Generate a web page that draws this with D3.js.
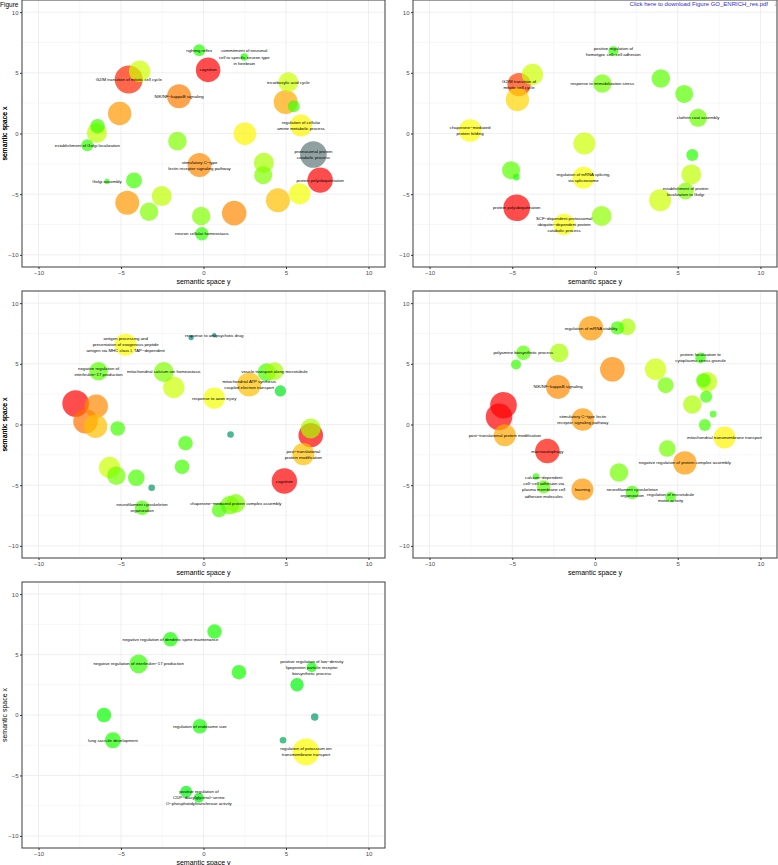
<!DOCTYPE html>
<html>
<head>
    <meta charset="utf-8">
    <title>GO semantic space</title>
    <script src="https://cdnjs.cloudflare.com/ajax/libs/d3/7.8.5/d3.min.js"></script>
    <style>
        body { margin: 0; background: #fff; }
        text { font-family: "Liberation Sans", Arial, sans-serif; }
        .tick text { fill: #4d4d4d; font-size: 6px; }
        .tick line { stroke: #333; }
        .label { font-size: 4.3px; fill: #000; }
    </style>
</head>
<body>
<script type="text/javascript">
    // y = horizontal ("semantic space y"), x = vertical ("semantic space x")
    // size ~ squared radius, score: 0 blue .. 1/3 green .. 2/3 yellow .. 1 red (null = NA)
    var panel1 = [
        { term: "righting reflex", y: -0.26, x: 6.86, size: 36, score: 0.38 },
        { term: "commitment of neuronal\ncell to specific neuron type\nin forebrain", y: 2.47, x: 6.3, size: 14, score: 0.38 },
        { term: "cognition", y: 0.28, x: 5.24, size: 151, score: 1.0 },
        { term: "", y: -3.87, x: 5.13, size: 114, score: 0.6 },
        { term: "G2/M transition of mitotic cell cycle", y: -4.53, x: 4.45, size: 196, score: 0.95 },
        { term: "NIK/NF\u2212kappaB signaling", y: -1.48, x: 3.07, size: 144, score: 0.84 },
        { term: "tricarboxylic acid cycle", y: 5.14, x: 4.22, size: 100, score: 0.6 },
        { term: "", y: 4.98, x: 2.6, size: 144, score: 0.78 },
        { term: "", y: 5.47, x: 2.25, size: 36, score: 0.42 },
        { term: "regulation of cellular\namine metabolic process", y: 5.91, x: 0.66, size: 121, score: 0.68 },
        { term: "", y: 2.51, x: -0.03, size: 128, score: 0.68 },
        { term: "", y: -5.08, x: 1.65, size: 137, score: 0.8 },
        { term: "", y: -6.42, x: 0.6, size: 53, score: 0.42 },
        { term: "", y: -6.46, x: 0.05, size: 100, score: 0.58 },
        { term: "establishment of Golgi localization", y: -7.04, x: -0.96, size: 36, score: 0.4 },
        { term: "", y: -1.58, x: -0.63, size: 86, score: 0.5 },
        { term: "stimulatory C\u2212type\nlectin receptor signaling pathway", y: -0.24, x: -2.6, size: 144, score: 0.82 },
        { term: "proteasomal protein\ncatabolic process", y: 6.66, x: -1.73, size: 177, score: null },
        { term: "protein polyubiquitination", y: 7.07, x: -3.84, size: 161, score: 1.0 },
        { term: "", y: 3.66, x: -2.41, size: 100, score: 0.55 },
        { term: "", y: 3.62, x: -3.43, size: 81, score: 0.5 },
        { term: "Golgi assembly", y: -5.85, x: -3.95, size: 7, score: 0.38 },
        { term: "", y: -4.21, x: -3.87, size: 64, score: 0.42 },
        { term: "", y: -2.53, x: -5.16, size: 100, score: 0.58 },
        { term: "", y: -4.62, x: -5.7, size: 144, score: 0.8 },
        { term: "", y: -3.3, x: -6.45, size: 86, score: 0.5 },
        { term: "", y: -0.14, x: -6.8, size: 86, score: 0.5 },
        { term: "neuron cellular homeostasis", y: -0.1, x: -8.26, size: 45, score: 0.4 },
        { term: "", y: 1.86, x: -6.56, size: 151, score: 0.82 },
        { term: "", y: 4.51, x: -5.51, size: 144, score: 0.75 },
        { term: "", y: 5.83, x: -4.97, size: 114, score: 0.65 }
    ];

    var panel2 = [
        { term: "positive regulation of\nhomotypic cell\u2212cell adhesion", y: 1.11, x: 6.78, size: 25, score: 0.4 },
        { term: "", y: -3.78, x: 4.86, size: 114, score: 0.6 },
        { term: "G2/M transition of\nmitotic cell cycle", y: -4.59, x: 4.03, size: 137, score: 0.92 },
        { term: "", y: -4.69, x: 2.8, size: 137, score: 0.72 },
        { term: "response to immobilization stress", y: 0.44, x: 4.12, size: 86, score: 0.48 },
        { term: "", y: 3.98, x: 4.53, size: 86, score: 0.45 },
        { term: "", y: 5.39, x: 3.26, size: 81, score: 0.45 },
        { term: "clathrin coat assembly", y: 6.23, x: 1.29, size: 81, score: 0.47 },
        { term: "chaperone\u2212mediated\nprotein folding", y: -7.55, x: 0.25, size: 128, score: 0.67 },
        { term: "", y: -0.64, x: -0.82, size: 121, score: 0.6 },
        { term: "", y: 5.88, x: -1.78, size: 36, score: 0.38 },
        { term: "", y: 5.82, x: -3.37, size: 100, score: 0.58 },
        { term: "", y: -5.07, x: -3.02, size: 81, score: 0.45 },
        { term: "", y: -4.75, x: -3.6, size: 11, score: 0.38 },
        { term: "regulation of mRNA splicing,\nvia spliceosome", y: -0.7, x: -3.65, size: 121, score: 0.66 },
        { term: "establishment of protein\nlocalization to Golgi", y: 5.47, x: -4.75, size: 69, score: 0.5 },
        { term: "", y: 3.94, x: -5.49, size: 121, score: 0.6 },
        { term: "protein polyubiquitination", y: -4.73, x: -6.12, size: 177, score: 1.0 },
        { term: "", y: 0.4, x: -6.8, size: 100, score: 0.52 },
        { term: "SCF\u2212dependent proteasomal\nubiquitin\u2212dependent protein\ncatabolic process", y: -1.87, x: -7.49, size: 114, score: 0.66 }
    ];

    var panel3 = [
        { term: "", y: -0.75, x: 7.16, size: 7, score: 0.18 },
        { term: "response to antipsychotic drug", y: 0.65, x: 7.35, size: 5, score: 0.18 },
        { term: "antigen processing and\npresentation of exogenous peptide\nantigen via MHC class I, TAP\u2212dependent", y: -4.72, x: 6.58, size: 121, score: 0.67 },
        { term: "negative regulation of\ninterleukin\u221217 production", y: -6.36, x: 4.39, size: 86, score: 0.45 },
        { term: "mitochondrial calcium ion homeostasis", y: -2.41, x: 4.33, size: 100, score: 0.5 },
        { term: "", y: -1.8, x: 3.05, size: 114, score: 0.6 },
        { term: "response to axon injury", y: 0.65, x: 2.17, size: 114, score: 0.65 },
        { term: "", y: 3.83, x: 4.3, size: 81, score: 0.43 },
        { term: "vesicle transport along microtubule", y: 4.3, x: 4.39, size: 81, score: 0.55 },
        { term: "mitochondrial ATP synthesis\ncoupled electron transport", y: 2.77, x: 3.29, size: 144, score: 0.75 },
        { term: "", y: 4.66, x: 2.77, size: 32, score: 0.3 },
        { term: "", y: -7.75, x: 1.73, size: 177, score: 1.0 },
        { term: "", y: -6.5, x: 1.51, size: 137, score: 0.82 },
        { term: "", y: -7.15, x: 0.27, size: 151, score: 0.85 },
        { term: "", y: -6.54, x: -0.14, size: 137, score: 0.75 },
        { term: "", y: -5.2, x: -0.33, size: 53, score: 0.42 },
        { term: "", y: -1.09, x: -1.54, size: 53, score: 0.42 },
        { term: "", y: 1.64, x: -0.82, size: 11, score: 0.2 },
        { term: "", y: -1.3, x: -3.48, size: 53, score: 0.42 },
        { term: "", y: 6.5, x: -0.88, size: 151, score: 1.0 },
        { term: "", y: 6.5, x: -0.33, size: 100, score: 0.55 },
        { term: "post\u2212translational\nprotein modification", y: 6.05, x: -2.44, size: 121, score: 0.75 },
        { term: "cognition", y: 4.9, x: -4.66, size: 161, score: 1.0 },
        { term: "", y: -5.69, x: -3.54, size: 114, score: 0.6 },
        { term: "", y: -5.28, x: -4.22, size: 86, score: 0.48 },
        { term: "", y: -4.07, x: -4.39, size: 69, score: 0.43 },
        { term: "", y: -3.14, x: -5.21, size: 11, score: 0.2 },
        { term: "neurofilament cytoskeleton\norganization", y: -3.72, x: -6.86, size: 53, score: 0.43 },
        { term: "", y: 0.95, x: -7.05, size: 53, score: 0.43 },
        { term: "", y: 1.6, x: -6.64, size: 86, score: 0.48 },
        { term: "chaperone\u2212mediated protein complex assembly", y: 1.96, x: -6.5, size: 86, score: 0.5 }
    ];

    var panel4 = [
        { term: "regulation of mRNA stability", y: -0.24, x: 7.93, size: 151, score: 0.8 },
        { term: "", y: 1.35, x: 7.96, size: 45, score: 0.42 },
        { term: "", y: 1.95, x: 8.04, size: 69, score: 0.55 },
        { term: "polyamine biosynthetic process", y: -4.33, x: 5.9, size: 53, score: 0.45 },
        { term: "", y: -4.77, x: 4.94, size: 25, score: 0.4 },
        { term: "", y: -2.17, x: 5.9, size: 86, score: 0.55 },
        { term: "", y: 1.05, x: 4.55, size: 151, score: 0.82 },
        { term: "NIK/NF\u2212kappaB signaling", y: -2.23, x: 3.1, size: 144, score: 0.82 },
        { term: "", y: 3.66, x: 4.55, size: 114, score: 0.6 },
        { term: "", y: 4.27, x: 3.24, size: 64, score: 0.48 },
        { term: "protein localization to\ncytoplasmic stress granule", y: 6.38, x: 5.49, size: 28, score: 0.4 },
        { term: "", y: 6.78, x: 3.51, size: 100, score: 0.58 },
        { term: "", y: 6.55, x: 3.63, size: 53, score: 0.45 },
        { term: "", y: 6.72, x: 2.28, size: 36, score: 0.42 },
        { term: "", y: 5.88, x: 1.65, size: 86, score: 0.56 },
        { term: "", y: 7.14, x: 0.85, size: 11, score: 0.4 },
        { term: "", y: 6.64, x: -0.05, size: 36, score: 0.42 },
        { term: "mitochondrial transmembrane transport", y: 7.83, x: -1.07, size: 121, score: 0.68 },
        { term: "", y: -5.53, x: 1.59, size: 177, score: 1.0 },
        { term: "", y: -5.8, x: 0.63, size: 177, score: 1.0 },
        { term: "post\u2212translational protein modification", y: -5.45, x: -0.88, size: 121, score: 0.78 },
        { term: "stimulatory C\u2212type lectin\nreceptor signaling pathway", y: -0.74, x: 0.41, size: 128, score: 0.8 },
        { term: "macroautophagy", y: -2.88, x: -2.19, size: 151, score: 0.98 },
        { term: "", y: 4.37, x: -1.98, size: 69, score: 0.48 },
        { term: "negative regulation of protein complex assembly", y: 5.43, x: -3.16, size: 137, score: 0.8 },
        { term: "", y: 1.45, x: -3.95, size: 86, score: 0.48 },
        { term: "", y: -3.56, x: -4.28, size: 11, score: 0.4 },
        { term: "calcium\u2212dependent\ncell\u2212cell adhesion via\nplasma membrane cell\nadhesion molecules", y: -3.1, x: -5.14, size: 45, score: 0.45 },
        { term: "learning", y: -0.76, x: -5.35, size: 121, score: 0.8 },
        { term: "neurofilament cytoskeleton\norganization", y: 2.25, x: -5.6, size: 45, score: 0.42 },
        { term: "regulation of microtubule\nmotor activity", y: 4.57, x: -5.98, size: 28, score: 0.42 }
    ];

    var panel5 = [
        { term: "", y: 0.67, x: 6.9, size: 53, score: 0.36 },
        { term: "negative regulation of dendritic spine maintenance", y: -2.0, x: 6.26, size: 53, score: 0.36 },
        { term: "negative regulation of interleukin\u221217 production", y: -3.93, x: 4.23, size: 86, score: 0.4 },
        { term: "", y: 2.15, x: 3.54, size: 53, score: 0.36 },
        { term: "positive regulation of low\u2212density\nlipoprotein particle receptor\nbiosynthetic process", y: 6.56, x: 3.96, size: 25, score: 0.35 },
        { term: "", y: 5.67, x: 2.5, size: 45, score: 0.32 },
        { term: "", y: -6.03, x: 0.0, size: 53, score: 0.34 },
        { term: "", y: 6.74, x: -0.16, size: 14, score: 0.2 },
        { term: "regulation of endosome size", y: -0.22, x: -0.93, size: 53, score: 0.36 },
        { term: "lung saccule development", y: -5.49, x: -2.09, size: 64, score: 0.37 },
        { term: "", y: 4.82, x: -2.09, size: 11, score: 0.22 },
        { term: "regulation of potassium ion\ntransmembrane transport", y: 6.21, x: -3.05, size: 177, score: 0.67 },
        { term: "", y: -1.05, x: -6.35, size: 36, score: 0.32 },
        { term: "positive regulation of\nCDP\u2212diacylglycerol\u2212serine\nO\u2212phosphatidyltransferase activity", y: -0.28, x: -6.84, size: 25, score: 0.32 }
    ];

    var axisTicks = [-10, -5, 0, 5, 10];
    var gridTicks = [-10, -7.5, -5, -2.5, 0, 2.5, 5, 7.5, 10];

    var width = 778, height = 865;

    var panels = [
        { data: panel1, left: 22, top: 0, w: 363, h: 267 },
        { data: panel2, left: 413, top: 0, w: 364, h: 267 },
        { data: panel3, left: 22, top: 291, w: 363, h: 267 },
        { data: panel4, left: 413, top: 291, w: 364, h: 267 },
        { data: panel5, left: 22, top: 582, w: 363, h: 266 }
    ];

    var svg = d3.select("body").append("svg")
        .attr("width", width)
        .attr("height", height);

    svg.append("rect").attr("width", width).attr("height", height).attr("fill", "#fff");

    var color = d3.scaleLinear()
        .domain([0, 1 / 3, 2 / 3, 1])
        .range(["#0000ff", "#00ff00", "#ffff00", "#ff0000"]);

    var radius = d3.scaleSqrt().domain([0, 196]).range([0, 14]);

    panels.forEach(function (p) {
        var xScale = d3.scaleLinear().domain([-11, 11]).range([0, p.w]),
            yScale = d3.scaleLinear().domain([-11, 11]).range([p.h, 0]);

        var g = svg.append("g")
            .attr("transform", "translate(" + p.left + "," + p.top + ")");

        // grid, minor then major
        g.selectAll("line.vgrid").data(gridTicks).enter()
            .append("line")
            .attr("x1", xScale).attr("x2", xScale)
            .attr("y1", 0).attr("y2", p.h)
            .attr("stroke", "#ebebeb")
            .attr("stroke-width", function (d) { return d % 5 === 0 ? 0.8 : 0.4; });
        g.selectAll("line.hgrid").data(gridTicks).enter()
            .append("line")
            .attr("y1", yScale).attr("y2", yScale)
            .attr("x1", 0).attr("x2", p.w)
            .attr("stroke", "#ebebeb")
            .attr("stroke-width", function (d) { return d % 5 === 0 ? 0.8 : 0.4; });

        var sorted = p.data.slice().sort(function (a, b) { return b.size - a.size; });

        g.selectAll("circle").data(sorted).enter()
            .append("circle")
            .attr("cx", function (d) { return xScale(d.y); })
            .attr("cy", function (d) { return yScale(d.x); })
            .attr("r", function (d) { return radius(d.size); })
            .attr("fill", function (d) { return d.score === null ? "#5e7776" : color(d.score); })
            .attr("fill-opacity", 0.7);

        // labels
        var labels = g.selectAll("text.label").data(p.data.filter(function (d) { return d.term; }))
            .enter().append("text")
            .attr("class", "label")
            .attr("text-anchor", "middle")
            .attr("x", function (d) { return xScale(d.y); })
            .attr("y", function (d) { return yScale(d.x); });
        labels.each(function (d) {
            var lines = d.term.split("\n"), n = lines.length, t = d3.select(this);
            lines.forEach(function (l, i) {
                t.append("tspan")
                    .attr("x", xScale(d.y))
                    .attr("dy", i === 0 ? ((-(n - 1) / 2) * 6.1 + 1.5) : 6.1)
                    .text(l);
            });
        });

        // border
        g.append("rect")
            .attr("width", p.w).attr("height", p.h)
            .attr("fill", "none")
            .attr("stroke", "#4d4d4d")
            .attr("stroke-width", 1.1);

        var xAxis = d3.axisBottom(xScale).tickValues(axisTicks).tickSize(2).tickPadding(1.5);
        var yAxis = d3.axisLeft(yScale).tickValues(axisTicks).tickSize(2).tickPadding(1.5);

        var gx = g.append("g").attr("transform", "translate(0," + p.h + ")").call(xAxis);
        var gy = g.append("g").call(yAxis);
        gx.select(".domain").remove();
        gy.select(".domain").remove();
        gx.selectAll(".tick text").attr("font-size", null);
        gy.selectAll(".tick text").attr("font-size", null);

        g.append("text")
            .attr("x", p.w / 2).attr("y", p.h + 17)
            .attr("text-anchor", "middle")
            .attr("font-size", 7)
            .text("semantic space y");

        g.append("text")
            .attr("transform", "translate(" + (-p.left + 6.5) + "," + (p.h / 2) + ") rotate(-90)")
            .attr("text-anchor", "middle")
            .attr("font-size", 7)
            .text("semantic space x");
    });

    // page header
    svg.append("text")
        .attr("x", 0).attr("y", 7)
        .attr("font-size", 6.5)
        .text("Figure");

    svg.append("text")
        .attr("x", 768).attr("y", 5.5)
        .attr("text-anchor", "end")
        .attr("font-size", 6)
        .attr("fill", "#2b2bd6")
        .text("Click here to download Figure GO_ENRICH_res.pdf");

    svg.append("text")
        .attr("x", 774).attr("y", 6)
        .attr("font-size", 6)
        .attr("fill", "#777")
        .text("\u2193");
</script>
</body>
</html>
